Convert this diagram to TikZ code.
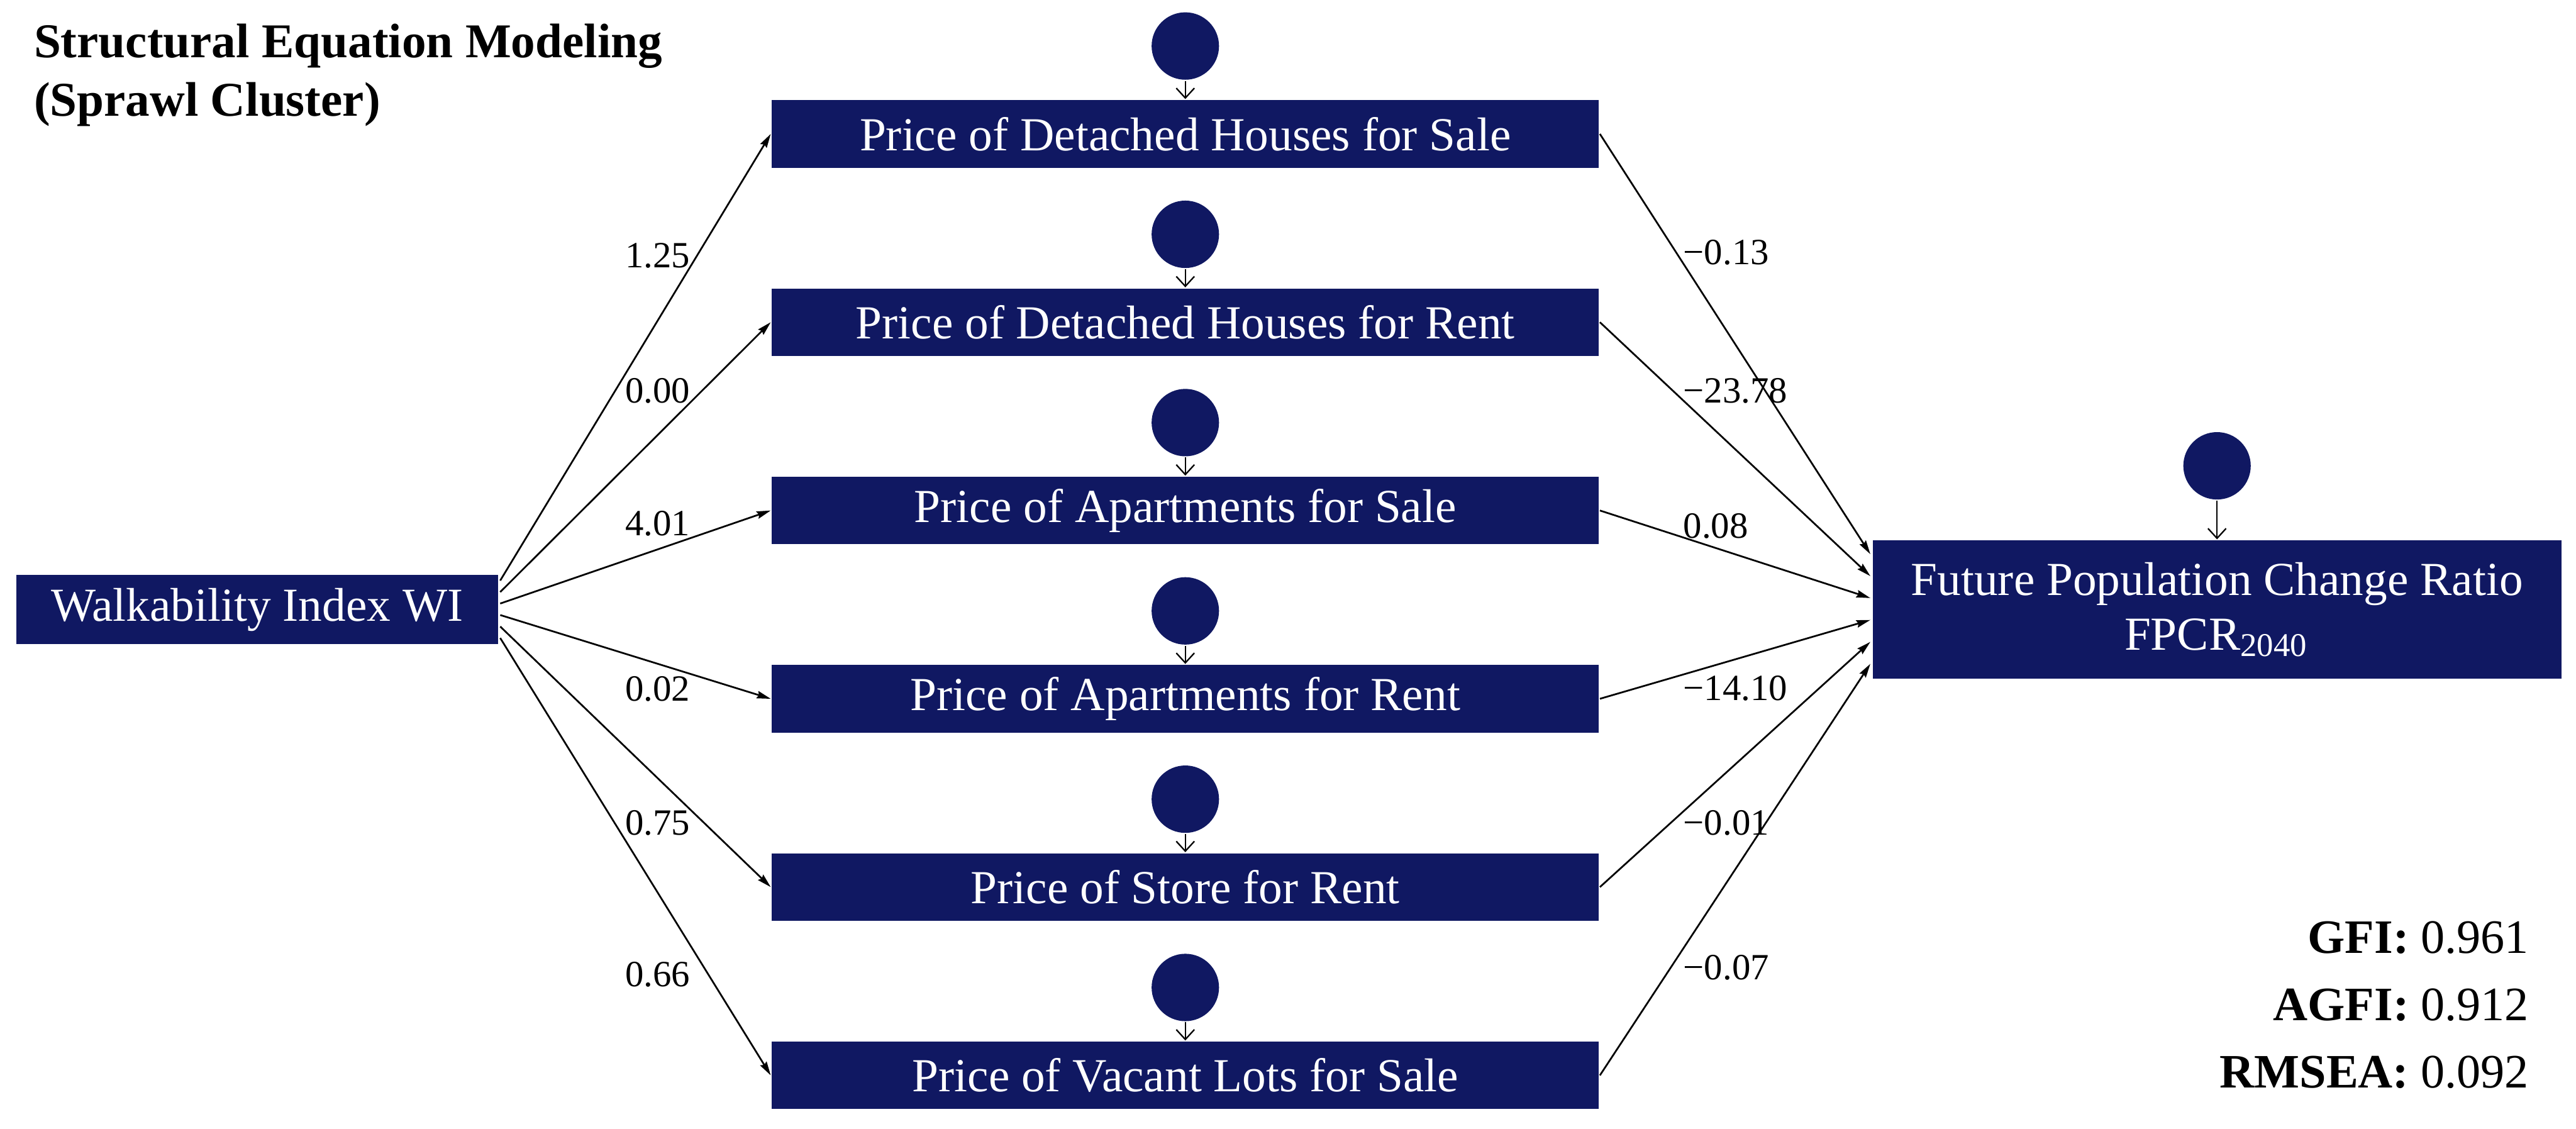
\documentclass[tikz,border=0pt]{standalone}
\usepackage{fontspec}
\setmainfont{Liberation Serif}
\usetikzlibrary{arrows.meta}
\definecolor{navy}{RGB}{16,24,98}
\begin{document}
\begin{tikzpicture}[x=0.01cm,y=-0.01cm,
  varbox/.style={fill=navy, text=white, inner sep=0pt, minimum width=5.03cm, minimum height=0.41cm, font=\fontsize{8.2}{9.4}\selectfont},
  errc/.style={circle, fill=navy, inner sep=0pt, minimum size=0.41cm},
  port/.style={inner sep=0pt, draw=none},
  conn/.style={line width=0.3pt, -{Stealth[length=0.085cm, width=0.045cm, inset=0.01cm]}},
  errarr/.style={line width=0.25pt, -{Straight Barb[length=0.06cm, width=0.11cm]}},
  coef/.style={anchor=west, inner sep=0pt, font=\fontsize{6.4}{7}\selectfont},
  fitstat/.style={anchor=base east, inner sep=0pt, font=\fontsize{8.3}{9}\selectfont},
  titletext/.style={anchor=base west, inner sep=0pt, font=\bfseries\fontsize{8.4}{10}\selectfont}
]
\useasboundingbox (0,0) rectangle (1568,687);

% title
\node[titletext] (t1) at (20,35) {Structural Equation Modeling};
\node[titletext] (t2) at (20,70.5) {(Sprawl Cluster)};

% exogenous
\node[varbox, minimum width=2.93cm, minimum height=0.42cm] (wi) at (156.5,371) {Walkability Index WI};

% mediators
\node[varbox] (p1) at (721.5,81.5) {Price of Detached Houses for Sale};
\node[varbox] (p2) at (721.5,196.1) {Price of Detached Houses for Rent};
\node[varbox] (p3) at (721.5,310.7) {Price of Apartments for Sale};
\node[varbox] (p4) at (721.5,425.3) {Price of Apartments for Rent};
\node[varbox] (p5) at (721.5,539.9) {Price of Store for Rent};
\node[varbox] (p6) at (721.5,654.5) {Price of Vacant Lots for Sale};

% outcome
\node[varbox, minimum width=4.19cm, minimum height=0.84cm, align=center] (fp) at (1349.5,371)
  {Future Population Change Ratio\\FPCR\textsubscript{2040}};

% error terms
\node[errc] (e1) at (721.5,28) {};
\node[errc] (e2) at (721.5,142.6) {};
\node[errc] (e3) at (721.5,257.2) {};
\node[errc] (e4) at (721.5,371.8) {};
\node[errc] (e5) at (721.5,486.4) {};
\node[errc] (e6) at (721.5,601) {};
\node[errc] (ef) at (1349.5,283.5) {};

\foreach \i in {1,...,6} {\draw[errarr] (e\i) -- (p\i);}
\draw[errarr] (ef) -- (fp);

% connector ports
\node[port, minimum width=0.2cm, minimum height=0.8cm] (wiport) at ([xshift=-0.1cm]wi.east) {};
\node[port, minimum width=0.42cm, minimum height=1.2cm] (fport) at ([xshift=0.21cm]fp.west) {};

\foreach \i in {1,...,6} {
  \draw[conn] (wiport) -- (p\i.west);
  \draw[conn] (p\i.east) -- (fport);
}

% coefficients WI -> mediators
\node[coef] (a1) at (380,155.5) {1.25};
\node[coef] (a2) at (380,238) {0.00};
\node[coef] (a3) at (380,318.5) {4.01};
\node[coef] (a4) at (380,419.5) {0.02};
\node[coef] (a5) at (380,501) {0.75};
\node[coef] (a6) at (380,593) {0.66};

% coefficients mediators -> FPCR
\node[coef] (b1) at (1024,153.6) {−0.13};
\node[coef] (b2) at (1024,238) {−23.78};
\node[coef] (b3) at (1024,320) {0.08};
\node[coef] (b4) at (1024,419) {−14.10};
\node[coef] (b5) at (1024,501) {−0.01};
\node[coef] (b6) at (1024,589) {−0.07};

% fit statistics
\node[fitstat] (g1) at (1540,580) {\textbf{GFI:} 0.961};
\node[fitstat] (g2) at (1540,621) {\textbf{AGFI:} 0.912};
\node[fitstat] (g3) at (1540,662) {\textbf{RMSEA:} 0.092};
\end{tikzpicture}
\end{document}
